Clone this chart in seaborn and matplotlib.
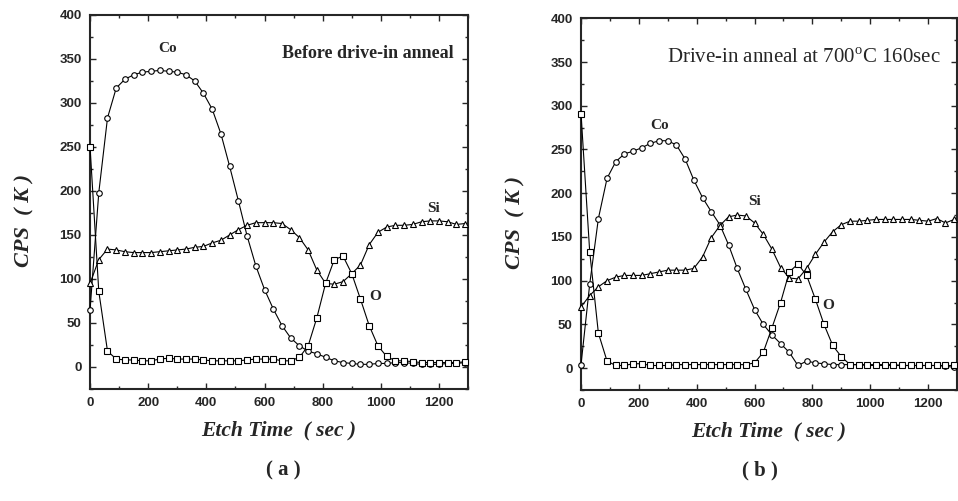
import numpy as np
import pandas as pd
import seaborn as sns
import matplotlib.pyplot as plt
from matplotlib.ticker import MultipleLocator

# etch time (sec), sampled every 30 s
etch_time = list(range(0, 1300, 30))

# (a) before drive-in anneal, CPS (K)
co_a = [65, 198, 283, 317, 327, 332, 335, 336, 337, 336,
        335, 332, 325, 311, 293, 265, 228, 189, 149, 115,
        88, 66, 47, 33, 24, 18, 15, 11, 7, 5,
        4, 3, 3, 4, 4, 5, 5, 4, 3, 3,
        3, 4, 4, 5]
si_a = [95, 122, 134, 133, 131, 130, 130, 130, 131, 132,
        133, 134, 136, 137, 141, 144, 150, 156, 161, 164,
        164, 164, 163, 156, 147, 133, 110, 95, 94, 97,
        106, 116, 139, 153, 159, 161, 161, 162, 165, 166,
        166, 165, 162, 163]
o_a = [250, 86, 18, 9, 8, 8, 7, 7, 9, 10,
       9, 9, 9, 8, 7, 7, 7, 7, 8, 9,
       9, 9, 7, 7, 11, 24, 56, 95, 122, 126,
       106, 77, 47, 24, 12, 7, 7, 6, 5, 5,
       5, 5, 5, 6]

# (b) drive-in anneal at 700C 160sec
co_b = [4, 96, 171, 217, 236, 245, 248, 252, 257, 260,
        260, 255, 239, 215, 195, 179, 164, 141, 114, 90,
        67, 50, 38, 28, 18, 3, 8, 6, 5, 4,
        4, 4, 4, 3, 3, 3, 3, 3, 3, 3,
        3, 3, 2, 1]
si_b = [70, 83, 93, 100, 104, 106, 106, 106, 108, 110,
        112, 112, 112, 114, 127, 149, 163, 173, 175, 174,
        166, 153, 136, 115, 103, 102, 114, 130, 144, 156,
        164, 168, 168, 169, 170, 170, 170, 170, 170, 169,
        168, 171, 166, 170]
o_b = [291, 133, 40, 8, 3, 3, 5, 5, 3, 3,
       3, 4, 4, 4, 4, 4, 4, 4, 4, 4,
       6, 18, 46, 75, 110, 119, 106, 79, 50, 26,
       13, 4, 4, 4, 4, 4, 4, 3, 3, 3,
       3, 3, 3, 3]

sns.set_style('ticks')
plt.rcParams['font.family'] = ['Liberation Serif', 'DejaVu Serif']
plt.rcParams['mathtext.fontset'] = 'custom'
plt.rcParams['mathtext.rm'] = 'Liberation Serif'

serif = 'Liberation Serif'
sans = 'Liberation Sans'

fig = plt.figure(figsize=(9.58, 5.01), dpi=100)
ax_a = fig.add_axes([0.094, 0.2236, 0.3946, 0.7465])
ax_b = fig.add_axes([0.6065, 0.2216, 0.3925, 0.7419])

markers = {'Co': 'o', 'Si': '^', 'O': 's'}


def draw_panel(ax, co, si, o):
    df = pd.DataFrame({'t': etch_time, 'Co': co, 'Si': si, 'O': o})
    for name in ['Co', 'Si', 'O']:
        sns.lineplot(data=df, x='t', y=name, ax=ax, color='black', lw=0.8,
                     marker=markers[name], ms=4, mfc='white', mec='black',
                     mew=0.8, clip_on=False, zorder=3)
    ax.set_xlim(0, 1300)
    ax.set_ylim(-25, 400)
    ax.xaxis.set_major_locator(MultipleLocator(200))
    ax.xaxis.set_minor_locator(MultipleLocator(100))
    ax.yaxis.set_major_locator(MultipleLocator(50))
    ax.yaxis.set_minor_locator(MultipleLocator(25))
    ax.tick_params(which='both', direction='in', top=True, right=True,
                   width=1.0)
    ax.tick_params(which='major', length=4, pad=6)
    ax.tick_params(which='minor', length=2)
    for lab in ax.get_xticklabels() + ax.get_yticklabels():
        lab.set_fontfamily(sans)
        lab.set_fontweight('bold')
        lab.set_fontsize(9.5)
    for sp in ax.spines.values():
        sp.set_linewidth(1.5)
    ax.set_xlabel('Etch Time  ( sec )', fontfamily=serif, fontsize=15.5,
                  fontweight='bold', fontstyle='italic', labelpad=8)
    ax.set_ylabel('CPS  ( K )', fontfamily=serif, fontsize=16,
                  fontweight='bold', fontstyle='italic')
    ax.yaxis.set_label_coords(-0.148, 0.45)


draw_panel(ax_a, co_a, si_a, o_a)
draw_panel(ax_b, co_b, si_b, o_b)

lbl = dict(fontfamily=serif, fontweight='bold', fontsize=11,
           ha='center', va='center')
ax_a.text(265, 362, 'Co', **lbl)
ax_a.text(1180, 180, 'Si', **lbl)
ax_a.text(980, 80, 'O', **lbl)
ax_a.text(1250, 356, 'Before drive-in anneal', fontfamily=serif,
          fontweight='bold', fontsize=13, ha='right', va='center')

ax_b.text(270, 277, 'Co', **lbl)
ax_b.text(600, 190, 'Si', **lbl)
ax_b.text(855, 72, 'O', **lbl)
ax_b.text(1245, 354, 'Drive-in anneal at 700$^{\\rm o}$C 160sec',
          fontfamily=serif, fontsize=15, ha='right', va='center')

fig.text(283 / 958, 1 - 470 / 501, '( a )', fontfamily=serif,
         fontweight='bold', fontsize=15, ha='center', va='center')
fig.text(760 / 958, 1 - 470 / 501, '( b )', fontfamily=serif,
         fontweight='bold', fontsize=15, ha='center', va='center')

fig.savefig('out.png', dpi=100)
